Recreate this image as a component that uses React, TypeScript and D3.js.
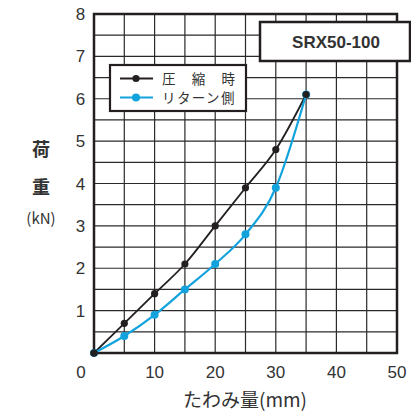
import React from "react";
import * as d3 from "d3";

// deflection (mm) and load (kN)
const deflection = [0, 5, 10, 15, 20, 25, 30, 35];
const compressLoad = [0, 0.7, 1.4, 2.1, 3.0, 3.9, 4.8, 6.1];
const returnLoad = [0, 0.4, 0.9, 1.5, 2.1, 2.8, 3.9, 6.1];

const xTicks = [0, 10, 20, 30, 40, 50];
const yTicks = [1, 2, 3, 4, 5, 6, 7, 8];
const seriesNames = ["圧　縮　時", "リターン側"];
const modelName = "SRX50-100";

const BLACK = "#231f20";
const BLUE = "#12a3dd";
const TEXT = "#333";
const FONT = "'Liberation Sans', Arial, sans-serif";
const JP = "'Noto Sans CJK JP', sans-serif";

const App = () => {
  const x = d3.scaleLinear().domain([0, 50]).range([94, 397]);
  const y = d3.scaleLinear().domain([0, 8]).range([353, 14]);

  const vGrid = d3.range(0, 50.01, 5);
  const hGrid = d3.range(0, 8.01, 0.5);

  const line = d3
    .line<number>()
    .curve(d3.curveMonotoneX)
    .x((_, i) => x(deflection[i]))
    .y((d) => y(d));

  const series = [
    { name: seriesNames[0], values: compressLoad, color: BLACK, r: 3.6, w: 1.8 },
    { name: seriesNames[1], values: returnLoad, color: BLUE, r: 4, w: 2.2 },
  ];

  return (
    <svg
      width={411}
      height={414}
      style={{ position: "absolute", left: 0, top: 0, background: "#fff" }}
    >
      {/* grid */}
      {vGrid.map((v) => (
        <line key={"v" + v} x1={x(v)} x2={x(v)} y1={y(0)} y2={y(8)} stroke="#2a2a2a" strokeWidth={1.2} />
      ))}
      {hGrid.map((v) => (
        <line key={"h" + v} x1={x(0)} x2={x(50)} y1={y(v)} y2={y(v)} stroke="#2a2a2a" strokeWidth={1.2} />
      ))}
      <rect
        x={x(0)}
        y={y(8)}
        width={x(50) - x(0)}
        height={y(0) - y(8)}
        fill="none"
        stroke={BLACK}
        strokeWidth={2.5}
      />

      {/* model box */}
      <rect x={260} y={22} width={150} height={39} fill="#fff" stroke={BLACK} strokeWidth={2.5} />
      <text x={336} y={48} textAnchor="middle" fontFamily={FONT} fontWeight="bold" fontSize={17} fill={TEXT}>
        {modelName}
      </text>

      {/* curves */}
      {series.map((s) => (
        <path key={s.name} d={line(s.values) || ""} fill="none" stroke={s.color} strokeWidth={s.w} />
      ))}
      {series
        .slice()
        .reverse()
        .map((s) => (
          <g key={s.name + "pts"}>
            {s.values.map((v, i) => (
              <circle key={i} cx={x(deflection[i])} cy={y(v)} r={s.r} fill={s.color} />
            ))}
          </g>
        ))}
      <circle cx={x(0)} cy={y(0)} r={3.6} fill={BLACK} />

      {/* legend */}
      <rect x={110} y={65} width={136} height={46} fill="#fff" stroke={BLACK} strokeWidth={2.2} />
      {series.map((s, i) => (
        <g key={s.name + "leg"} transform={`translate(0,${78.5 + i * 19})`}>
          <line x1={120} x2={153} y1={0} y2={0} stroke={s.color} strokeWidth={2.2} />
          <circle cx={136} cy={0} r={s.r} fill={s.color} />
          <text x={162} y={5} fontFamily={JP} fontSize={13.5} letterSpacing={1.4} fill={TEXT}>
            {s.name}
          </text>
        </g>
      ))}

      {/* axis labels */}
      {yTicks.map((t) => (
        <text key={"yt" + t} x={80.5} y={y(t) + 6} textAnchor="middle" fontFamily={FONT} fontSize={17} fill={TEXT}>
          {t}
        </text>
      ))}
      {xTicks.map((t) => (
        <text
          key={"xt" + t}
          x={t === 0 ? 81 : x(t)}
          y={378}
          textAnchor="middle"
          fontFamily={FONT}
          fontSize={17}
          fill={TEXT}
        >
          {t}
        </text>
      ))}

      <text x={41} y={156} textAnchor="middle" fontFamily={JP} fontWeight="bold" fontSize={18} fill={TEXT}>
        荷
      </text>
      <text x={41} y={194} textAnchor="middle" fontFamily={JP} fontWeight="bold" fontSize={18} fill={TEXT}>
        重
      </text>
      <text x={41} y={224} textAnchor="middle" fontFamily={JP} fontSize={15} fill={TEXT}>
        (kN)
      </text>
      <text x={245} y={407} textAnchor="middle" fontFamily={JP} fontSize={19} fill={TEXT}>
        たわみ量(mm)
      </text>
    </svg>
  );
};

export default App;
